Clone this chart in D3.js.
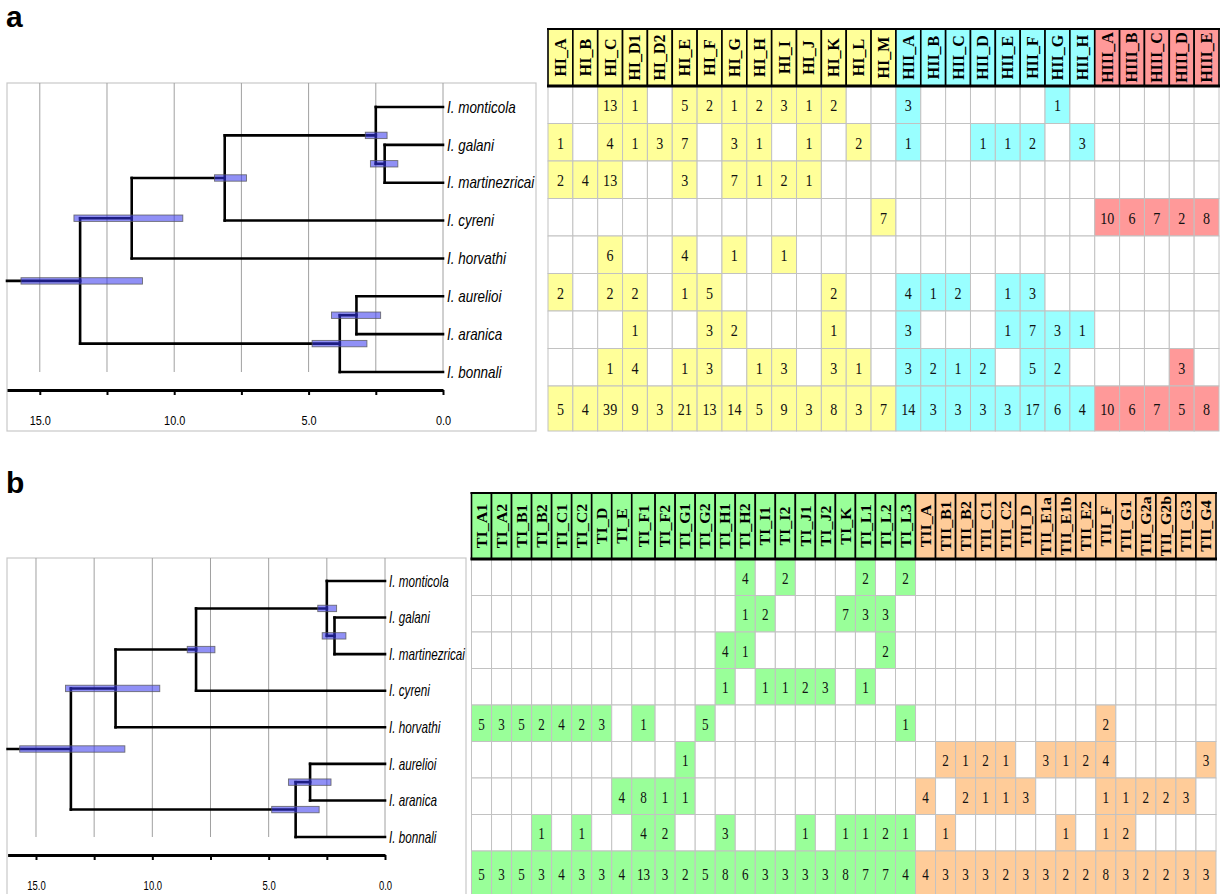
<!DOCTYPE html>
<html><head><meta charset="utf-8">
<script src="https://cdn.jsdelivr.net/npm/d3@7"></script>
<style>body{margin:0;background:#fff}svg{display:block}</style>
</head><body>
<svg id="chart" width="1224" height="894"></svg>
<script>
// ---------------- DATA ----------------
const species = ["I. monticola","I. galani","I. martinezricai","I. cyreni","I. horvathi","I. aurelioi","I. aranica","I. bonnali"];

// chronogram: internal nodes (age in Ma, 95% HPD)
const nodeIds    = ["root","D","C","A","B","F","E"];
const nodeParent = [null,"root","D","C","A","root","F"];
const nodeAge    = [13.5, 11.58, 8.12, 2.5, 2.17, 3.84, 3.22];
const hpdLow     = [11.18, 9.68, 7.31, 2.08, 1.68, 2.83, 2.32];
const hpdHigh    = [15.70, 13.73, 8.50, 2.89, 2.70, 4.87, 4.15];
const tipParent  = ["A","B","B","C","D","E","E","F"];
const stemAge    = 16.22;
const axisTicks  = [0, 2.5, 5, 7.5, 10, 12.5, 15];

// panel a : haplotype counts (0 = absent)
const colsA = ["HI_A","HI_B","HI_C","HI_D1","HI_D2","HI_E","HI_F","HI_G","HI_H","HI_I","HI_J","HI_K","HI_L","HI_M",
               "HII_A","HII_B","HII_C","HII_D","HII_E","HII_F","HII_G","HII_H",
               "HIII_A","HIII_B","HIII_C","HIII_D","HIII_E"];
const countsA = [
  [0,0,13,1,0,5,2,1,2,3,1,2,0,0, 3,0,0,0,0,0,1,0, 0,0,0,0,0],
  [1,0,4,1,3,7,0,3,1,0,1,0,2,0, 1,0,0,1,1,2,0,3, 0,0,0,0,0],
  [2,4,13,0,0,3,0,7,1,2,1,0,0,0, 0,0,0,0,0,0,0,0, 0,0,0,0,0],
  [0,0,0,0,0,0,0,0,0,0,0,0,0,7, 0,0,0,0,0,0,0,0, 10,6,7,2,8],
  [0,0,6,0,0,4,0,1,0,1,0,0,0,0, 0,0,0,0,0,0,0,0, 0,0,0,0,0],
  [2,0,2,2,0,1,5,0,0,0,0,2,0,0, 4,1,2,0,1,3,0,0, 0,0,0,0,0],
  [0,0,0,1,0,0,3,2,0,0,0,1,0,0, 3,0,0,0,1,7,3,1, 0,0,0,0,0],
  [0,0,1,4,0,1,3,0,1,3,0,3,1,0, 3,2,1,2,0,5,2,0, 0,0,0,3,0]
];
const totalsA = [5,4,39,9,3,21,13,14,5,9,3,8,3,7, 14,3,3,3,3,17,6,4, 10,6,7,5,8];

// panel b
const colsB = ["TI_A1","TI_A2","TI_B1","TI_B2","TI_C1","TI_C2","TI_D","TI_E","TI_F1","TI_F2","TI_G1","TI_G2","TI_H1","TI_H2",
               "TI_I1","TI_I2","TI_J1","TI_J2","TI_K","TI_L1","TI_L2","TI_L3",
               "TII_A","TII_B1","TII_B2","TII_C1","TII_C2","TII_D","TII_E1a","TII_E1b","TII_E2","TII_F","TII_G1","TII_G2a","TII_G2b","TII_G3","TII_G4"];
const countsB = [
  [0,0,0,0,0,0,0,0,0,0,0,0,0,4,0,2,0,0,0,2,0,2, 0,0,0,0,0,0,0,0,0,0,0,0,0,0,0],
  [0,0,0,0,0,0,0,0,0,0,0,0,0,1,2,0,0,0,7,3,3,0, 0,0,0,0,0,0,0,0,0,0,0,0,0,0,0],
  [0,0,0,0,0,0,0,0,0,0,0,0,4,1,0,0,0,0,0,0,2,0, 0,0,0,0,0,0,0,0,0,0,0,0,0,0,0],
  [0,0,0,0,0,0,0,0,0,0,0,0,1,0,1,1,2,3,0,1,0,0, 0,0,0,0,0,0,0,0,0,0,0,0,0,0,0],
  [5,3,5,2,4,2,3,0,1,0,0,5,0,0,0,0,0,0,0,0,0,1, 0,0,0,0,0,0,0,0,0,2,0,0,0,0,0],
  [0,0,0,0,0,0,0,0,0,0,1,0,0,0,0,0,0,0,0,0,0,0, 0,2,1,2,1,0,3,1,2,4,0,0,0,0,3],
  [0,0,0,0,0,0,0,4,8,1,1,0,0,0,0,0,0,0,0,0,0,0, 4,0,2,1,1,3,0,0,0,1,1,2,2,3,0],
  [0,0,0,1,0,1,0,0,4,2,0,0,3,0,0,0,1,0,1,1,2,1, 0,1,0,0,0,0,0,1,0,1,2,0,0,0,0]
];
const totalsB = [5,3,5,3,4,3,3,4,13,3,2,5,8,6,3,3,3,3,8,7,7,4, 4,3,3,3,2,3,3,2,2,8,3,2,2,3,3];

const paletteA = {HI:"#ffff99", HII:"#99ffff", HIII:"#ff9999"};
const paletteB = {TI:"#99ff99", TII:"#ffcc99"};

// ---------------- DRAWING ----------------
const svg = d3.select("#chart");
const serif = "'Liberation Serif','Times New Roman',serif";
const sans = "'Liberation Sans',Arial,sans-serif";

function drawTree(cfg) {
  const g = svg.append("g");
  const x = d3.scaleLinear().domain([stemAge, 0]).range([cfg.xLeft, cfg.xZero]);
  const y = d3.scalePoint().domain(species).range([cfg.yFirst, cfg.yLast]);

  g.append("rect").attr("x", cfg.frame[0]).attr("y", cfg.frame[1])
    .attr("width", cfg.frame[2]-cfg.frame[0]).attr("height", cfg.frame[3]-cfg.frame[1])
    .attr("fill","none").attr("stroke","#c8c8c8").attr("stroke-width",1.2);

  g.selectAll("line.grid").data(axisTicks).join("line").attr("class","grid")
    .attr("x1", d=>x(d)).attr("x2", d=>x(d))
    .attr("y1", cfg.frame[1]).attr("y2", cfg.yLast)
    .attr("stroke","#a0a0a0").attr("stroke-width",1);

  const rows = nodeIds.map((id,i)=>({id, parent:nodeParent[i], age:nodeAge[i], lo:hpdLow[i], hi:hpdHigh[i]}))
    .concat(species.map((s,i)=>({id:s, parent:tipParent[i], age:0})));
  const root = d3.stratify().id(d=>d.id).parentId(d=>d.parent)(rows);
  root.eachAfter(n => {
    n.px = x(n.data.age);
    if (n.children) { const ys = n.children.map(c=>c.py); n.py = (d3.min(ys)+d3.max(ys))/2; }
    else n.py = y(n.id);
  });
  const paths = [];
  root.each(n => {
    if (n.parent) paths.push(`M${n.parent.px},${n.py}H${n.px}`);
    else paths.push(`M${x(stemAge)},${n.py}H${n.px}`);
    if (n.children) {
      const ys = n.children.map(c=>c.py);
      paths.push(`M${n.px},${d3.min(ys)}V${d3.max(ys)}`);
    }
  });
  g.selectAll("path.br").data(paths).join("path").attr("class","br").attr("d", d=>d)
    .attr("fill","none").attr("stroke","#000").attr("stroke-width",2.6).attr("stroke-linecap","square");

  const internal = root.descendants().filter(n=>n.children);
  g.selectAll("rect.hpd").data(internal).join("rect").attr("class","hpd")
    .attr("x", n=>x(n.data.hi)).attr("width", n=>x(n.data.lo)-x(n.data.hi))
    .attr("y", n=>n.py-3.2).attr("height", 6.4)
    .attr("fill","#3535ee").attr("fill-opacity",0.55)
    .attr("stroke","#555").attr("stroke-opacity",0.8).attr("stroke-width",0.9);

  g.selectAll("text.sp").data(root.leaves()).join("text").attr("class","sp")
    .attr("transform", n=>`translate(${x(0)+4},${n.py}) scale(${cfg.sx},1)`)
    .attr("dy","0.36em").attr("font-family",sans).attr("font-style","italic").attr("font-size",16)
    .text(n=>n.id);

  const ax = g.append("g").attr("transform",`translate(0,${cfg.axisY})`)
    .call(d3.axisBottom(x).tickValues(axisTicks).tickSize(5).tickSizeOuter(0)
      .tickFormat(d => d % 5 === 0 ? d.toFixed(1) : ""));
  ax.attr("font-family", null).attr("font-size", null);
  ax.select(".domain").attr("stroke","#000").attr("stroke-width",3);
  ax.selectAll(".tick line").attr("stroke","#000").attr("stroke-width",2);
  ax.selectAll(".tick text").attr("y",30).attr("dy","0.36em")
    .attr("font-family",sans).attr("font-size",13).attr("fill","#000")
    .attr("transform",`scale(${cfg.sx},1)`);
}

function drawTable(cfg) {
  const g = svg.append("g");
  const n = cfg.cols.length;
  const colMax = cfg.cols.map((c,j)=>Math.max(cfg.totals[j], d3.max(cfg.counts, r=>r[j])));
  const weights = colMax.map(m => (cfg.widen && String(m).length > 1) ? 7/6 : 1);
  const cum = [0]; weights.forEach(w => cum.push(cum[cum.length-1]+w));
  const xc = d3.scaleLinear().domain([0, cum[n]]).range([cfg.x0, cfg.x1]);
  const rowY = d3.scaleBand().domain(species).range([cfg.yHead1, cfg.yData1]);
  const colColor = c => cfg.palette[c.split("_")[0]];

  const cells = [];
  species.forEach((s,i) => cfg.cols.forEach((c,j) => cells.push({
    x0:xc(cum[j]), x1:xc(cum[j+1]), y0:rowY(s), y1:rowY(s)+rowY.bandwidth(), v:cfg.counts[i][j], col:c})));
  cfg.cols.forEach((c,j) => cells.push({
    x0:xc(cum[j]), x1:xc(cum[j+1]), y0:cfg.yData1, y1:cfg.ySum1, v:cfg.totals[j], col:c}));

  g.selectAll("rect.cell").data(cells).join("rect").attr("class","cell")
    .attr("x",d=>d.x0).attr("y",d=>d.y0).attr("width",d=>d.x1-d.x0).attr("height",d=>d.y1-d.y0)
    .attr("fill",d=>d.v ? colColor(d.col) : "#fff")
    .attr("stroke","#c2c2c2").attr("stroke-width",1);

  g.selectAll("text.num").data(cells.filter(d=>d.v)).join("text").attr("class","num")
    .attr("transform",d=>`translate(${(d.x0+d.x1)/2},${(d.y0+d.y1)/2+1}) scale(${cfg.sx},1)`)
    .attr("text-anchor","middle").attr("dy","0.35em")
    .attr("font-family",serif).attr("font-size",16).attr("fill","#111")
    .text(d=>d.v);

  const heads = cfg.cols.map((c,j)=>({c, x0:xc(cum[j]), x1:xc(cum[j+1])}));
  g.selectAll("rect.head").data(heads).join("rect").attr("class","head")
    .attr("x",d=>d.x0).attr("y",cfg.yHead0).attr("width",d=>d.x1-d.x0).attr("height",cfg.yHead1-cfg.yHead0)
    .attr("fill",d=>colColor(d.c)).attr("stroke","#000").attr("stroke-width",1.6);
  g.append("line").attr("x1",cfg.x0-1).attr("x2",cfg.x1+1).attr("y1",cfg.yHead1).attr("y2",cfg.yHead1)
    .attr("stroke","#000").attr("stroke-width",3);
  g.append("line").attr("x1",cfg.x0-1).attr("x2",cfg.x1+1).attr("y1",cfg.yHead0).attr("y2",cfg.yHead0)
    .attr("stroke","#000").attr("stroke-width",2);
  g.selectAll("text.head").data(heads).join("text").attr("class","head")
    .attr("transform",d=>`translate(${(d.x0+d.x1)/2},${(cfg.yHead0+cfg.yHead1)/2}) scale(${cfg.hsx},1) rotate(-90)`)
    .attr("text-anchor","middle").attr("dy","0.34em")
    .attr("font-family",serif).attr("font-weight","bold").attr("font-size",cfg.hfs).attr("fill","#000")
    .text(d=>d.c);
}

// panel labels
svg.append("text").attr("x",6).attr("y",27).attr("font-family",sans).attr("font-weight","bold")
  .attr("font-size",30).text("a");
svg.append("text").attr("x",6).attr("y",493).attr("font-family",sans).attr("font-weight","bold")
  .attr("font-size",30).text("b");

drawTree({xLeft:7, xZero:443, yFirst:107, yLast:372, axisY:390, frame:[7,83,536,431], sx:0.84});
drawTree({xLeft:7.6, xZero:385, yFirst:581, yLast:837, axisY:855, frame:[7,558,466,905], sx:0.73});

drawTable({cols:colsA, counts:countsA, totals:totalsA, palette:paletteA, widen:false,
  x0:548, x1:1219, yHead0:29, yHead1:86, yData1:386, ySum1:431, sx:0.88, hsx:1, hfs:16});
drawTable({cols:colsB, counts:countsB, totals:totalsB, palette:paletteB, widen:true,
  x0:471.5, x1:1216, yHead0:493, yHead1:559, yData1:851, ySum1:896, sx:0.82, hsx:0.95, hfs:16});
</script>
</body></html>
